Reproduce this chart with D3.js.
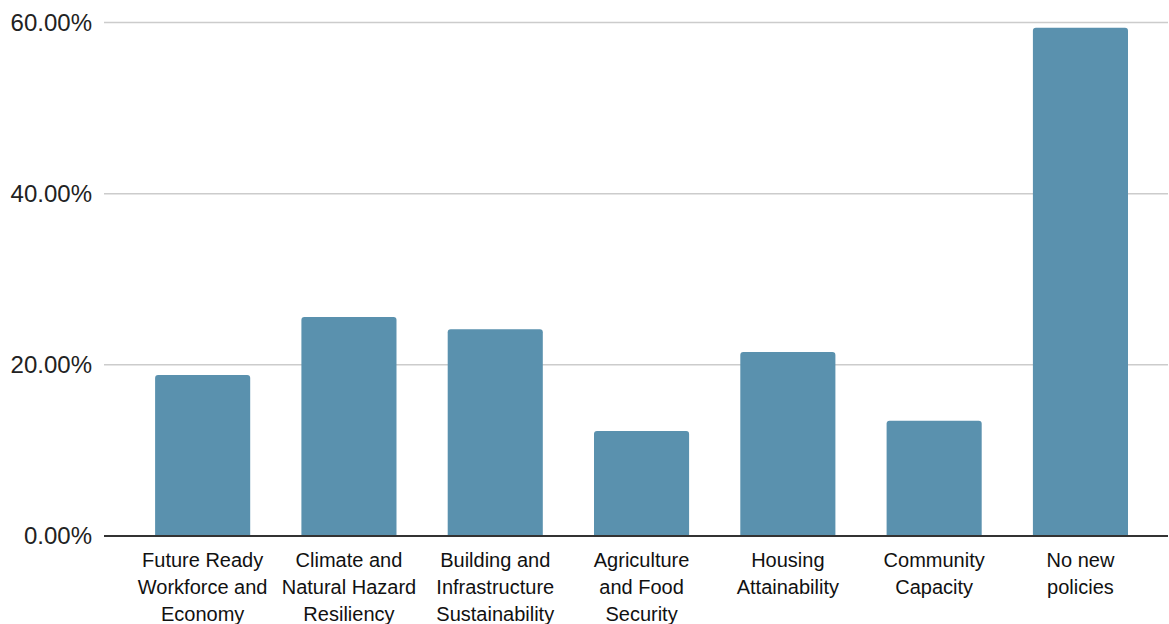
<!DOCTYPE html>
<html>
<head>
<meta charset="utf-8">
<script src="https://cdn.jsdelivr.net/npm/d3@7"></script>
<style>
  html, body { margin: 0; padding: 0; background: #fff; }
  svg { display: block; font-family: "Liberation Sans", Arial, sans-serif; }
</style>
</head>
<body>
<svg id="chart" width="1169" height="624"></svg>
<script>
// Share of responses per policy area
const categories = [
  "Future Ready\nWorkforce and\nEconomy",
  "Climate and\nNatural Hazard\nResiliency",
  "Building and\nInfrastructure\nSustainability",
  "Agriculture\nand Food\nSecurity",
  "Housing\nAttainability",
  "Community\nCapacity",
  "No new\npolicies"
];
const values = [0.188, 0.256, 0.2415, 0.1227, 0.215, 0.1347, 0.5938];
const yTicks = [0, 0.2, 0.4, 0.6];

const svg = d3.select("#chart");
const plotLeft = 104, plotRight = 1168;
const yBase = 536, yTop = 22.5;

const x = d3.scaleBand()
  .domain(categories)
  .range([129.5, 1153.6])
  .paddingInner(0.35)
  .paddingOuter(0.175);

const y = d3.scaleLinear()
  .domain([0, 0.6])
  .range([yBase, yTop]);

// Horizontal gridlines
svg.append("g")
  .selectAll("line")
  .data(yTicks.filter(d => d > 0))
  .join("line")
  .attr("x1", plotLeft)
  .attr("x2", plotRight)
  .attr("y1", d => y(d))
  .attr("y2", d => y(d))
  .attr("stroke", "#cccccc")
  .attr("stroke-width", 1.5);

// Y axis labels
const yAxis = d3.axisLeft(y)
  .tickValues(yTicks)
  .tickFormat(d3.format(".2%"))
  .tickSize(0)
  .tickPadding(0);

svg.append("g")
  .attr("transform", `translate(92,0)`)
  .call(yAxis)
  .call(g => g.select(".domain").remove())
  .call(g => g.selectAll("text")
    .attr("font-size", 24)
    .attr("font-family", "Liberation Sans, Arial, sans-serif")
    .attr("fill", "#222"));

// Bars with slightly rounded top corners
const r = 3;
svg.append("g")
  .selectAll("path")
  .data(categories.map((c, i) => ({ c, v: values[i] })))
  .join("path")
  .attr("fill", "#5a91ae")
  .attr("d", d => {
    const x0 = x(d.c), w = x.bandwidth();
    const yt = y(d.v), yb = y(0);
    return `M${x0},${yb}V${yt + r}Q${x0},${yt} ${x0 + r},${yt}` +
           `H${x0 + w - r}Q${x0 + w},${yt} ${x0 + w},${yt + r}V${yb}Z`;
  });

// Baseline
svg.append("line")
  .attr("x1", plotLeft)
  .attr("x2", plotRight)
  .attr("y1", y(0))
  .attr("y2", y(0))
  .attr("stroke", "#333333")
  .attr("stroke-width", 2);

// Category labels
const xAxis = d3.axisBottom(x).tickSize(0).tickFormat("");
const xg = svg.append("g")
  .attr("transform", `translate(0,${yBase})`)
  .call(xAxis)
  .call(g => g.select(".domain").remove());

xg.selectAll(".tick").each(function(d) {
  const t = d3.select(this).append("text")
    .attr("text-anchor", "middle")
    .attr("font-size", 20)
    .attr("fill", "#111")
    .attr("y", 31);
  d.split("\n").forEach((line, i) => {
    t.append("tspan")
      .attr("x", 0)
      .attr("dy", i === 0 ? 0 : 27)
      .text(line);
  });
});
</script>
</body>
</html>
